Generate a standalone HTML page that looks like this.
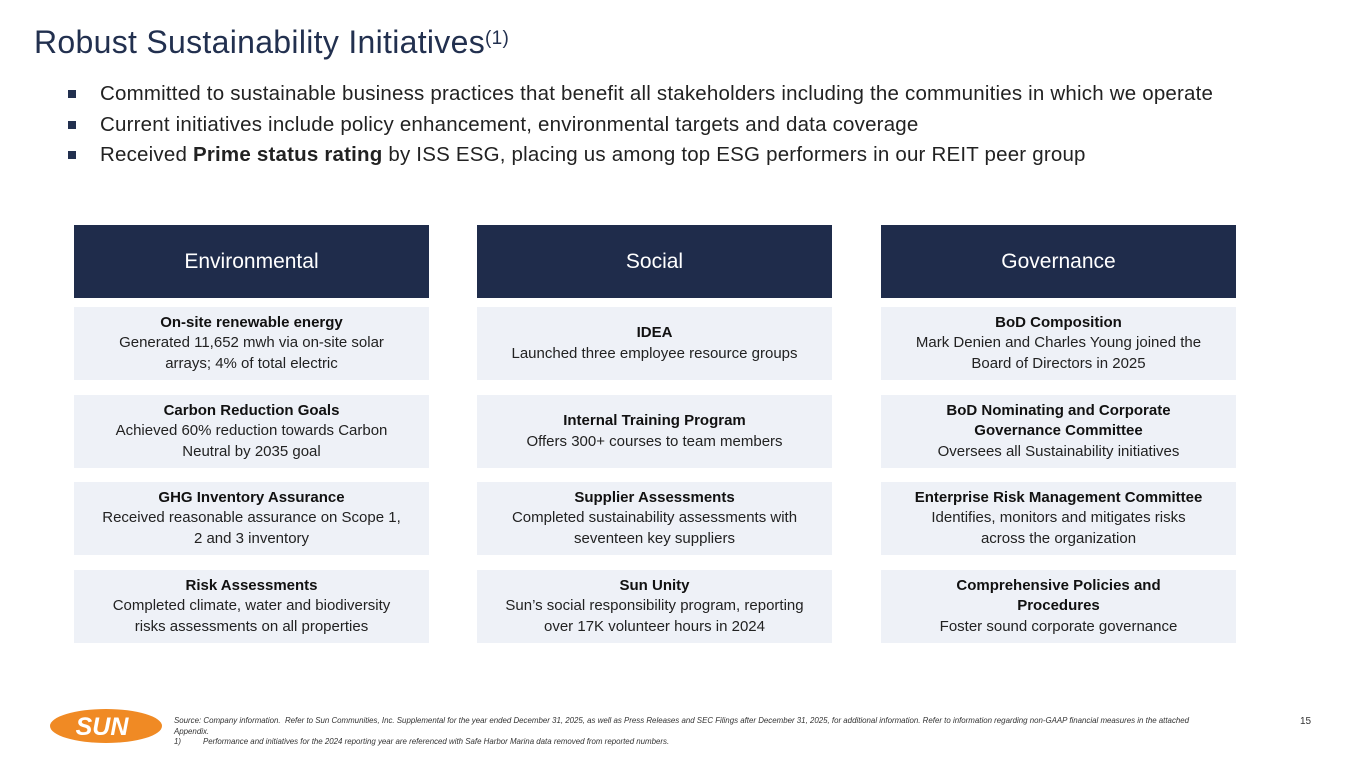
<!DOCTYPE html>
<html><head><meta charset="utf-8"><style>
*{margin:0;padding:0;box-sizing:border-box}
body{width:1365px;height:768px;background:#fff;font-family:"Liberation Sans",sans-serif;position:relative;overflow:hidden;color:#222}
.title{position:absolute;left:34px;top:24px;font-size:32px;color:#22304f;letter-spacing:0.3px}
.title sup{font-size:19px;vertical-align:top;position:relative;top:4px}
.bullets{position:absolute;left:68px;top:82px;font-size:20.5px;color:#222;letter-spacing:0.2px}
.bullets div{height:30.5px;position:relative;padding-left:32px;white-space:nowrap}
.bullets div:before{content:"";position:absolute;left:0;top:8px;width:8px;height:8px;background:#22304f}
.hdr{position:absolute;width:355px;height:73px;background:#1f2c4b;color:#fff;font-size:21px;display:flex;align-items:center;justify-content:center}
.card{position:absolute;width:355px;height:73px;background:#eef1f7;font-size:15px;line-height:20.5px;text-align:center;display:flex;flex-direction:column;justify-content:center;padding:0 24px;color:#222}
.card b{color:#111}
.foot{position:absolute;left:174px;top:716px;font-size:7.9px;font-style:italic;color:#333;line-height:10.5px;width:1035px}
.pg{position:absolute;left:1300px;top:716px;font-size:10px;color:#333}
</style></head><body>
<div class="title">Robust Sustainability Initiatives<sup>(1)</sup></div>
<div class="bullets">
<div>Committed to sustainable business practices that benefit all stakeholders including the communities in which we operate</div>
<div>Current initiatives include policy enhancement, environmental targets and data coverage</div>
<div>Received <b>Prime status rating</b> by ISS ESG, placing us among top ESG performers in our REIT peer group</div>
</div>

<div class="hdr" style="left:74px;top:225px">Environmental</div>
<div class="hdr" style="left:477px;top:225px">Social</div>
<div class="hdr" style="left:881px;top:225px">Governance</div>

<div class="card" style="left:74px;top:307px"><b>On-site renewable energy</b>Generated 11,652 mwh via on-site solar arrays; 4% of total electric</div>
<div class="card" style="left:74px;top:395px"><b>Carbon Reduction Goals</b>Achieved 60% reduction towards Carbon Neutral by 2035 goal</div>
<div class="card" style="left:74px;top:482px"><b>GHG Inventory Assurance</b>Received reasonable assurance on Scope 1, 2 and 3 inventory</div>
<div class="card" style="left:74px;top:570px"><b>Risk Assessments</b>Completed climate, water and biodiversity risks assessments on all properties</div>

<div class="card" style="left:477px;top:307px"><b>IDEA</b>Launched three employee resource groups</div>
<div class="card" style="left:477px;top:395px"><b>Internal Training Program</b>Offers 300+ courses to team members</div>
<div class="card" style="left:477px;top:482px"><b>Supplier Assessments</b>Completed sustainability assessments with seventeen key suppliers</div>
<div class="card" style="left:477px;top:570px"><b>Sun Unity</b>Sun’s social responsibility program, reporting over 17K volunteer hours in 2024</div>

<div class="card" style="left:881px;top:307px"><b>BoD Composition</b>Mark Denien and Charles Young joined the Board of Directors in 2025</div>
<div class="card" style="left:881px;top:395px;padding:0 40px"><b>BoD Nominating and Corporate Governance Committee</b>Oversees all Sustainability initiatives</div>
<div class="card" style="left:881px;top:482px;padding:0 30px"><b>Enterprise Risk Management Committee</b>Identifies, monitors and mitigates risks<br>across the organization</div>
<div class="card" style="left:881px;top:570px;padding:0 50px"><b>Comprehensive Policies and Procedures</b>Foster sound corporate governance</div>

<svg style="position:absolute;left:48px;top:708px" width="116" height="36">
<ellipse cx="58" cy="18" rx="56" ry="17" fill="#f08a24"/>
<text x="54" y="27" text-anchor="middle" font-family="Liberation Sans" font-weight="bold" font-style="italic" font-size="25" fill="#fff">SUN</text>
</svg>
<div class="foot">Source: Company information.&nbsp; Refer to Sun Communities, Inc. Supplemental for the year ended December 31, 2025, as well as Press Releases and SEC Filings after December 31, 2025, for additional information. Refer to information regarding non-GAAP financial measures in the attached Appendix.<br>1)&nbsp;&nbsp;&nbsp;&nbsp;&nbsp;&nbsp;&nbsp;&nbsp;&nbsp;&nbsp;Performance and initiatives for the 2024 reporting year are referenced with Safe Harbor Marina data removed from reported numbers.</div>
<div class="pg">15</div>
</body></html>
